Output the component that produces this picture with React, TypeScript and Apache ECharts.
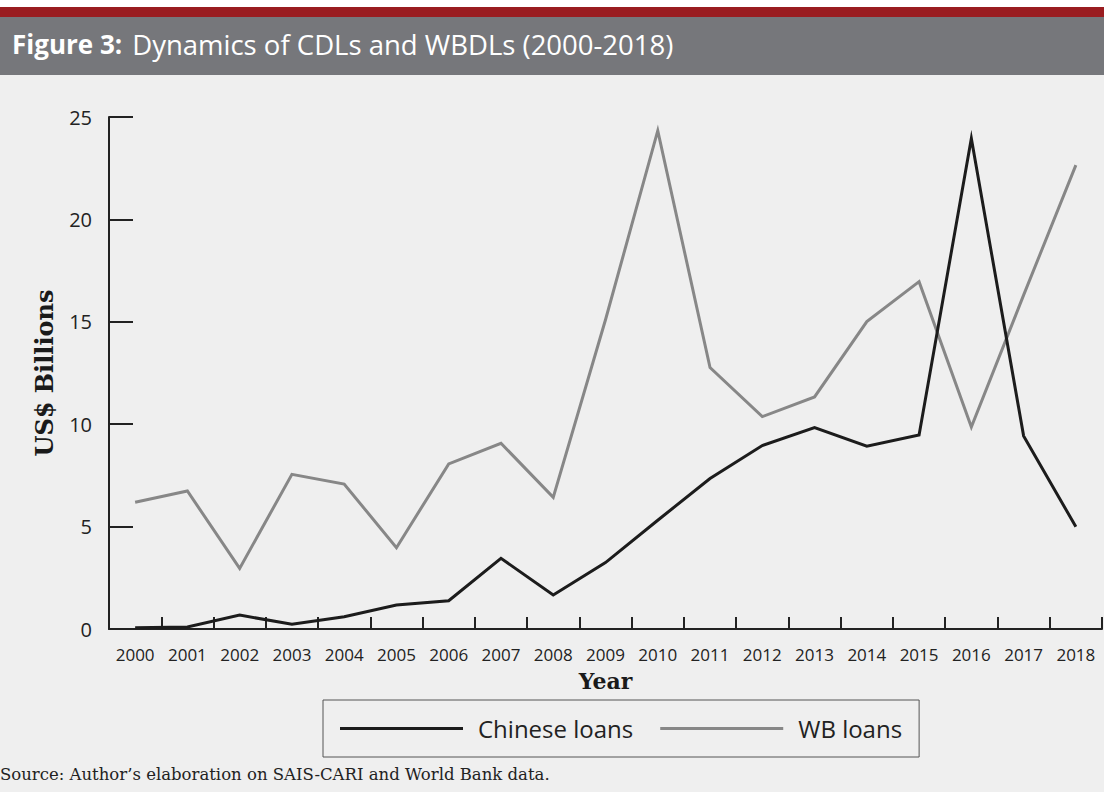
import React, { useEffect, useRef } from "react";
import * as echarts from "echarts";

const years = ["2000","2001","2002","2003","2004","2005","2006","2007","2008","2009","2010","2011","2012","2013","2014","2015","2016","2017","2018"];
const chineseLoans = [0.06,0.1,0.68,0.23,0.6,1.17,1.38,3.45,1.66,3.24,5.31,7.35,8.96,9.83,8.93,9.47,23.95,9.43,4.99];
const wbLoans = [6.19,6.74,2.96,7.55,7.08,3.97,8.06,9.07,6.43,15.1,24.33,12.77,10.37,11.33,15.01,16.96,9.86,16.3,22.65];
const yTicks = { min: 0, max: 25, interval: 5 };

const SANS = "'Open Sans', 'Noto Sans', sans-serif";
const SERIF = "'DejaVu Serif', 'Liberation Serif', serif";

export default function App() {
  const ref = useRef<HTMLDivElement>(null);
  useEffect(() => {
    if (!ref.current) return;
    const chart = echarts.init(ref.current, null, { renderer: "svg" });
    chart.setOption({
      animation: false,
      backgroundColor: "#efefef",
      graphic: [
        { type: "rect", z: -10, shape: { x: 0, y: 0, width: 1104, height: 7 }, style: { fill: "#ffffff" } },
        { type: "rect", z: -10, shape: { x: 0, y: 7, width: 1104, height: 10 }, style: { fill: "#9a1c20" } },
        { type: "rect", z: -10, shape: { x: 0, y: 17, width: 1104, height: 58 }, style: { fill: "#76777b" } },
      ],
      title: [
        {
          text: "{b|Figure 3:}  {r|Dynamics of CDLs and WBDLs (2000-2018)}",
          left: 12,
          top: 27,
          padding: 0,
          textStyle: {
            rich: {
              b: { fontFamily: SANS, fontWeight: "bold", fontSize: 26, color: "#ffffff", lineHeight: 34 },
              r: { fontFamily: SANS, fontWeight: "normal", fontSize: 27.5, color: "#ffffff", lineHeight: 34 },
            },
          },
        },
        {
          text: "Source: Author\u2019s elaboration on SAIS-CARI and World Bank data.",
          left: 0,
          top: 766,
          padding: 0,
          textStyle: { fontFamily: SERIF, fontWeight: "normal", fontSize: 16.5, color: "#222222" },
        },
      ],
      legend: {
        left: 323,
        top: 700,
        padding: [13, 17, 13, 17],
        borderColor: "#555555",
        borderWidth: 1,
        itemGap: 27,
        itemWidth: 123,
        itemHeight: 14,
        icon: "path://M0,5.5 L123,5.5 L123,8.5 L0,8.5 Z",
        textStyle: { fontFamily: SANS, fontSize: 24, lineHeight: 31, color: "#222222", padding: [0, 0, 0, 10] },
        data: [
          { name: "Chinese loans", itemStyle: { color: "#1c1c1c" } },
          { name: "WB loans", itemStyle: { color: "#878787" } },
        ],
      },
      grid: { left: 109, right: 2, top: 117, bottom: 163 },
      xAxis: {
        type: "category",
        data: years,
        boundaryGap: true,
        name: "Year",
        nameLocation: "middle",
        nameGap: 41,
        nameTextStyle: { fontFamily: SERIF, fontWeight: "bold", fontSize: 22, color: "#1a1a1a" },
        axisLine: { show: true, lineStyle: { color: "#222222", width: 2 } },
        axisTick: { show: true, inside: true, length: 12, lineStyle: { color: "#222222", width: 2 } },
        axisLabel: { fontFamily: SANS, fontSize: 17, color: "#222222", margin: 17 },
        splitLine: { show: false },
      },
      yAxis: {
        type: "value",
        min: yTicks.min,
        max: yTicks.max,
        interval: yTicks.interval,
        name: "US$ Billions",
        nameLocation: "middle",
        nameGap: 53,
        nameRotate: 90,
        nameTextStyle: { fontFamily: SERIF, fontWeight: "bold", fontSize: 24, color: "#1a1a1a" },
        axisLine: { show: true, lineStyle: { color: "#222222", width: 2 } },
        axisTick: { show: true, inside: true, length: 24, lineStyle: { color: "#222222", width: 2 } },
        axisLabel: { fontFamily: SANS, fontSize: 20, color: "#222222", margin: 17 },
        splitLine: { show: false },
      },
      series: [
        {
          name: "Chinese loans",
          type: "line",
          data: chineseLoans,
          symbol: "none",
          z: 3,
          lineStyle: { color: "#1c1c1c", width: 3, join: "miter", miterLimit: 20 },
          itemStyle: { color: "#1c1c1c" },
        },
        {
          name: "WB loans",
          type: "line",
          data: wbLoans,
          symbol: "none",
          z: 2,
          lineStyle: { color: "#878787", width: 3, join: "miter", miterLimit: 20 },
          itemStyle: { color: "#878787" },
        },
      ],
    });
    return () => chart.dispose();
  }, []);
  return <div ref={ref} style={{ position: "absolute", left: 0, top: 0, width: 1104, height: 792 }} />;
}
